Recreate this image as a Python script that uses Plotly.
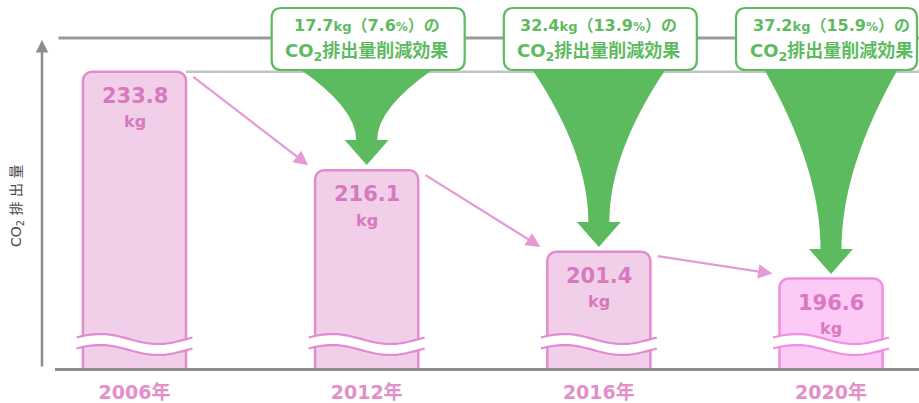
import numpy as np
import plotly.graph_objects as go

# ---- data ----
years = ["2006年", "2012年", "2016年", "2020年"]
emissions = [233.8, 216.1, 201.4, 196.6]          # kg
reduction_kg = [None, "17.7", "32.4", "37.2"]
reduction_pct = [None, "7.6", "13.9", "15.9"]

# ---- layout constants ----
W, H = 919, 403
ML, MR, MT, MB = 55, 0, 38, 33
PW, PH = W - ML - MR, H - MT - MB
YMIN, YMAX = 180.5, 239.88
XMIN, XMAX = -0.3424, 3.379
BARW = 0.444
PPU = PH / (YMAX - YMIN)          # px per kg
UPX = PW / (XMAX - XMIN)          # px per category unit

PINK_FILL = ["#f1cfe9", "#f1cfe9", "#f1cfe9", "#fccaf4"]
PINK_LINE = ["#e18bd0", "#e18bd0", "#e18bd0", "#f08ee0"]
LABEL_PINK = "#d879c0"
TICK_PINK = "#e48fc9"
GREEN = "#5dbb5f"
GRAY = "#8c8c8c"
FONT = "DejaVu Sans, Noto Sans CJK JP"

xs = list(range(len(years)))


def px_paper(xv):
    return (xv - XMIN) / (XMAX - XMIN)


fig = go.Figure()
fig.add_trace(go.Bar(
    x=xs, y=emissions, width=BARW,
    marker=dict(color=PINK_FILL, line=dict(color=PINK_LINE, width=2.5), cornerradius=9),
    hoverinfo="skip",
))

shapes = []
annotations = []

# top frame line & 2006 reference line
shapes.append(dict(type="line", xref="paper", yref="paper", x0=0.004, x1=1, y0=1, y1=1,
                   line=dict(color="#9a9a9a", width=3), layer="below"))
shapes.append(dict(type="line", xref="x", yref="y", x0=xs[0] + BARW / 2, x1=XMAX,
                   y0=emissions[0], y1=emissions[0],
                   line=dict(color="#c4c4c4", width=2.5), layer="below"))

# wave break marks
t = np.linspace(0, 1, 41)
hw = 58
wx = -hw + 2 * hw * t
phase = np.sin(2 * np.pi * t + 0.3)
yu = 29 + 5 * phase
yl = 18 + 5 * phase
for i in xs:
    band = "M " + " L ".join(f"{a:.1f},{b:.1f}" for a, b in zip(wx, yu))
    band += " L " + " L ".join(f"{a:.1f},{b:.1f}" for a, b in zip(wx[::-1], yl[::-1])) + " Z"
    common = dict(xref="paper", yref="paper", xsizemode="pixel", ysizemode="pixel",
                  xanchor=px_paper(i), yanchor=0, layer="above")
    shapes.append(dict(type="path", path=band, fillcolor="white", line=dict(width=0), **common))
    for arr in (yu, yl):
        p = "M " + " L ".join(f"{a:.1f},{b:.1f}" for a, b in zip(wx, arr))
        shapes.append(dict(type="path", path=p, line=dict(color=PINK_LINE[i], width=2.2), **common))

# green funnels + callout boxes
for i in xs:
    if reduction_kg[i] is None:
        continue
    anchor = dict(xref="paper", yref="paper", xsizemode="pixel", ysizemode="pixel",
                  xanchor=px_paper(i), yanchor=1, layer="above")
    top_y = -31
    tip_y = -((YMAX - emissions[i]) * PPU - 6)
    base_y = tip_y + 25
    L = top_y - base_y
    cy = top_y - 0.55 * L
    tw, sw, hwid = 67, 10.5, 22
    path = (f"M {-tw},{top_y} L {tw},{top_y} Q {sw},{cy:.1f} {sw},{base_y:.1f} "
            f"L {hwid},{base_y:.1f} L 0,{tip_y:.1f} L {-hwid},{base_y:.1f} L {-sw},{base_y:.1f} "
            f"Q {-sw},{cy:.1f} {-tw},{top_y} Z")
    shapes.append(dict(type="path", path=path, fillcolor=GREEN, line=dict(width=0), **anchor))

    room = (XMAX - i) * UPX
    x0, x1 = -95, min(98, room - 2)
    y0, y1 = -32, 30
    r = 10
    box = (f"M {x0 + r},{y1} L {x1 - r},{y1} Q {x1},{y1} {x1},{y1 - r} L {x1},{y0 + r} "
           f"Q {x1},{y0} {x1 - r},{y0} L {x0 + r},{y0} Q {x0},{y0} {x0},{y0 + r} "
           f"L {x0},{y1 - r} Q {x0},{y1} {x0 + r},{y1} Z")
    shapes.append(dict(type="path", path=box, fillcolor="white", line=dict(color=GREEN, width=2.2), **anchor))

    line1 = (f"<b>{reduction_kg[i]}<span style='font-size:13px'>kg</span>（{reduction_pct[i]}"
             f"<span style='font-size:12px'>%</span>）の</b>")
    line2 = "<b>CO<sub>2</sub>排出量削減効果</b>"
    for txt, ys, fs in ((line1, 13, 16), (line2, -14, 18)):
        annotations.append(dict(xref="paper", yref="paper", x=px_paper(i), y=1, yshift=ys,
                                xanchor="center", yanchor="middle", showarrow=False, text=txt,
                                font=dict(family=FONT, size=fs, color=GREEN)))

# value labels inside bars
for i in xs:
    annotations.append(dict(xref="x", yref="y", x=i, y=emissions[i], yshift=-24, showarrow=False,
                            yanchor="middle", text=f"<b>{emissions[i]:.1f}</b>",
                            font=dict(family=FONT, size=21, color=LABEL_PINK)))
    annotations.append(dict(xref="x", yref="y", x=i, y=emissions[i], yshift=-50, showarrow=False,
                            yanchor="middle", text="<b>kg</b>",
                            font=dict(family=FONT, size=16, color=LABEL_PINK)))

# pink trend arrows
for i in xs[:-1]:
    annotations.append(dict(xref="x", yref="y", axref="x", ayref="y",
                            x=i + 1 - BARW / 2 - 0.03, y=emissions[i + 1] + 5 / PPU,
                            ax=i + BARW / 2 + 0.025, ay=emissions[i] - 4 / PPU,
                            text="", showarrow=True, arrowhead=2, arrowsize=1.3,
                            arrowwidth=2.2, arrowcolor="#e59ad6"))

# y axis arrow and title
annotations.append(dict(xref="paper", yref="paper", x=(42 - ML) / PW, y=(370 - 40) / PH,
                        ax=0, ay=328, text="", showarrow=True, arrowhead=2, arrowsize=1,
                        arrowwidth=2.5, arrowcolor=GRAY))
annotations.append(dict(xref="paper", yref="paper", x=(17 - ML) / PW, y=(370 - 207) / PH,
                        text="CO<sub>2</sub> 排 出 量", textangle=-90, showarrow=False,
                        xanchor="center", yanchor="middle",
                        font=dict(family=FONT, size=14, color="#4a4a4a")))

fig.update_layout(
    width=W, height=H,
    margin=dict(l=ML, r=MR, t=MT, b=MB),
    paper_bgcolor="white", plot_bgcolor="white",
    showlegend=False,
    shapes=shapes, annotations=annotations,
    xaxis=dict(range=[XMIN, XMAX], tickvals=xs, ticktext=[f"<b>{y}</b>" for y in years],
               tickfont=dict(family=FONT, size=19, color=TICK_PINK), showgrid=False,
               zeroline=False, showline=True, linecolor=GRAY, linewidth=2.5, ticks="",
               ticklabelstandoff=5, fixedrange=True),
    yaxis=dict(range=[YMIN, YMAX], visible=False, fixedrange=True),
)

fig.write_html("out.html")
